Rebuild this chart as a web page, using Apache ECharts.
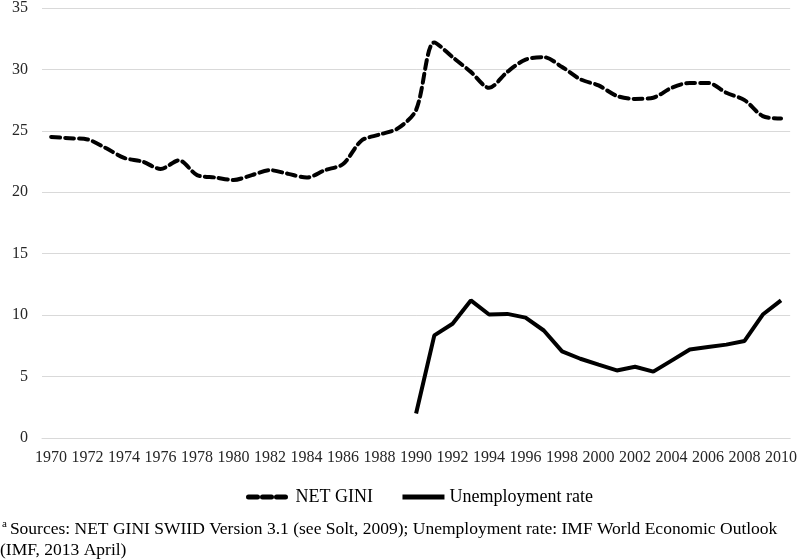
<!DOCTYPE html>
<html><head><meta charset="utf-8">
<script src="https://cdn.jsdelivr.net/npm/echarts@6/dist/echarts.min.js"></script>
<style>html,body{margin:0;padding:0;background:#fff}#c{width:800px;height:560px}</style>
</head><body><div id="c"></div>
<script>
var years = [];
for (var y = 1970; y <= 2010; y++) years.push(String(y));
var netGini = [24.5,24.4,24.3,23.6,22.8,22.5,21.9,22.6,21.4,21.2,21.0,21.4,21.8,21.5,21.2,21.8,22.3,24.2,24.7,25.2,26.7,32.2,31.0,29.8,28.5,29.8,30.8,31.0,30.2,29.2,28.7,27.85,27.6,27.7,28.5,28.9,28.9,28.1,27.5,26.2,26.0];
var unemp = [null,null,null,null,null,null,null,null,null,null,null,null,null,null,null,null,null,null,null,null,2.0,8.35,9.3,11.2,10.05,10.1,9.8,8.75,7.05,6.45,5.97,5.5,5.8,5.4,6.3,7.2,7.4,7.6,7.9,10.05,11.2];
var seriesNames = ['NET GINI','Unemployment rate'];
var footnote = 'Sources: NET GINI SWIID Version 3.1 (see Solt, 2009); Unemployment rate: IMF World Economic Outlook\n(IMF, 2013 April)';

var font = '"Liberation Serif", "Times New Roman", serif';
var chart = echarts.init(document.getElementById('c'));
chart.setOption({
  animation: false,
  textStyle: {fontFamily: font},
  grid: {left: 42, right: 7, top: 6, bottom: 122},
  xAxis: {
    type: 'category', data: years, boundaryGap: true,
    axisLine: {show: true, lineStyle: {color: '#d9d9d9', width: 1}},
    axisTick: {show: false},
    axisLabel: {interval: 1, color: '#262626', fontSize: 16, fontFamily: font, margin: 12}
  },
  yAxis: {
    type: 'value', min: 0, max: 35, interval: 5,
    axisLine: {show: false}, axisTick: {show: false},
    splitLine: {lineStyle: {color: '#d9d9d9', width: 1}},
    axisLabel: {color: '#262626', fontSize: 16, fontFamily: font, margin: 14}
  },
  legend: {
    top: 483, left: 241, itemWidth: 42, itemHeight: 20, itemGap: 27,
    textStyle: {color: '#000', fontSize: 18, fontFamily: font},
    itemStyle: {opacity: 0, borderWidth: 0},
    lineStyle: {width: 5},
    data: seriesNames
  },
  graphic: [{
    type: 'text', left: 0, top: 519,
    style: {
      text: '{sup|a}' + footnote,
      rich: {sup: {fontSize: 11, verticalAlign: 'top', padding: [0, 3, 8, 2], fontFamily: font, fill: '#000'}},
      font: '17.5px ' + font, fill: '#000', lineHeight: 21
    }
  }],
  series: [
    {name: seriesNames[0], type: 'line', data: netGini, symbol: 'none', smooth: 0.3,
     lineStyle: {color: '#000', width: 4, type: [9, 5], cap: 'round'}, itemStyle: {color: '#000'}},
    {name: seriesNames[1], type: 'line', data: unemp, symbol: 'none', connectNulls: false,
     lineStyle: {color: '#000', width: 4}, itemStyle: {color: '#000'}}
  ]
});
</script></body></html>
